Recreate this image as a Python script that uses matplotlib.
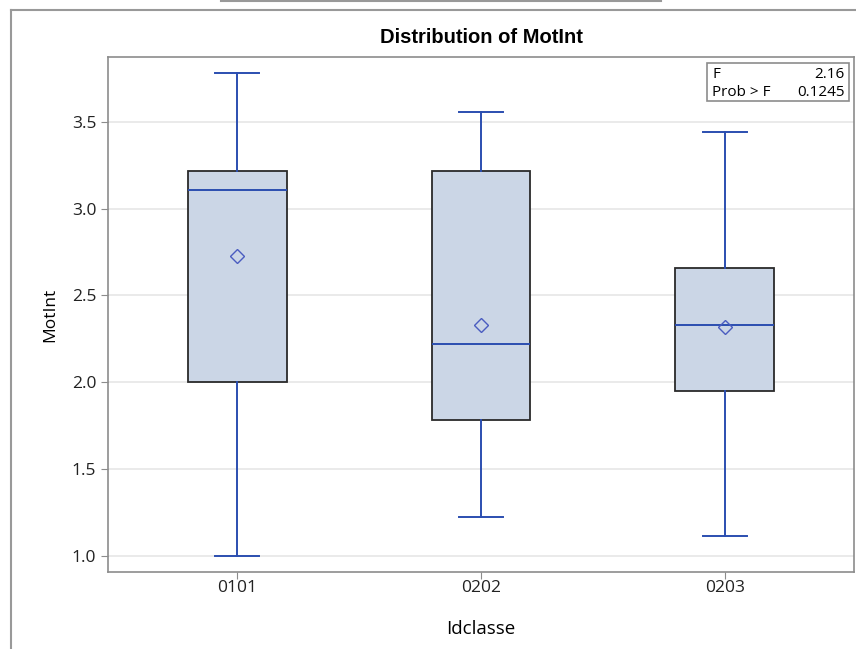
import matplotlib
matplotlib.use('Agg')
import matplotlib.pyplot as plt
from matplotlib.lines import Line2D

# values
groups = ['0101', '0202', '0203']
whisker_low = [1.00, 1.22, 1.11]
q1 = [2.00, 1.78, 1.95]
median = [3.11, 2.22, 2.33]
q3 = [3.22, 3.22, 2.66]
whisker_high = [3.78, 3.56, 3.44]
means = [2.73, 2.33, 2.32]
f_value = '2.16'
p_value = '0.1245'

plt.rcParams['font.family'] = ['Open Sans', 'DejaVu Sans']

blue = '#2b4eb0'
fill = '#cbd6e6'

fig = plt.figure(figsize=(8.56, 6.49), dpi=100)
ax = fig.add_axes([108 / 856, 1 - 572 / 649, (854 - 108) / 856, (572 - 57) / 649])

stats = []
for i, g in enumerate(groups):
    stats.append({'label': g, 'whislo': whisker_low[i], 'q1': q1[i], 'med': median[i],
                  'q3': q3[i], 'whishi': whisker_high[i], 'mean': means[i], 'fliers': []})

ax.bxp(stats, positions=range(len(groups)), widths=0.405, patch_artist=True,
       showmeans=True, showcaps=True,
       boxprops=dict(facecolor=fill, edgecolor='#2a2a2a', linewidth=1.3),
       medianprops=dict(color=blue, linewidth=1.4),
       whiskerprops=dict(color=blue, linewidth=1.4),
       capprops=dict(color=blue, linewidth=1.4),
       capwidths=0.18,
       meanprops=dict(marker='D', markerfacecolor='none', markeredgecolor='#4a5cc0',
                      markersize=7, markeredgewidth=1.0))

ax.set_xlim(-0.53, 2.53)
ax.set_ylim(0.905, 3.875)
ax.set_yticks([1.0, 1.5, 2.0, 2.5, 3.0, 3.5])
ax.set_yticklabels(['1.0', '1.5', '2.0', '2.5', '3.0', '3.5'])
ax.grid(axis='y', color='#e6e6e6', linewidth=1.2)
ax.set_axisbelow(True)
for s in ax.spines.values():
    s.set_color('#8c8c8c')
    s.set_linewidth(1.2)
ax.tick_params(colors='#8c8c8c', labelcolor='#222222', labelsize=12.5, length=5)
ax.tick_params(axis='x', pad=1)

ax.set_title('Distribution of MotInt', fontsize=14.5, fontweight='bold',
             family=['Liberation Sans', 'DejaVu Sans'], pad=10)
ax.set_xlabel('Idclasse', fontsize=13.5, labelpad=17)
ax.set_ylabel('MotInt', fontsize=12.5, labelpad=10)

# stats inset
ax.text(0.81, 0.966, 'F', transform=ax.transAxes, fontsize=11, va='center', ha='left')
ax.text(0.987, 0.966, f_value, transform=ax.transAxes, fontsize=11, va='center', ha='right')
ax.text(0.81, 0.932, 'Prob > F', transform=ax.transAxes, fontsize=11, va='center', ha='left')
ax.text(0.987, 0.932, p_value, transform=ax.transAxes, fontsize=11, va='center', ha='right')
ax.add_patch(plt.Rectangle((0.803, 0.915), 0.19, 0.074, transform=ax.transAxes,
                           fill=False, edgecolor='#8c8c8c', linewidth=1.2))

# outer frame lines from the screenshot
fig.add_artist(Line2D([11 / 856, 11 / 856], [0, 1 - 10 / 649], color='#999999', linewidth=1.5))
fig.add_artist(Line2D([11 / 856, 1], [1 - 10 / 649, 1 - 10 / 649], color='#999999', linewidth=1.5))
fig.add_artist(Line2D([221 / 856, 661 / 856], [0.999, 0.999], color='#999999', linewidth=1.5))

plt.savefig('out.png', dpi=100)
